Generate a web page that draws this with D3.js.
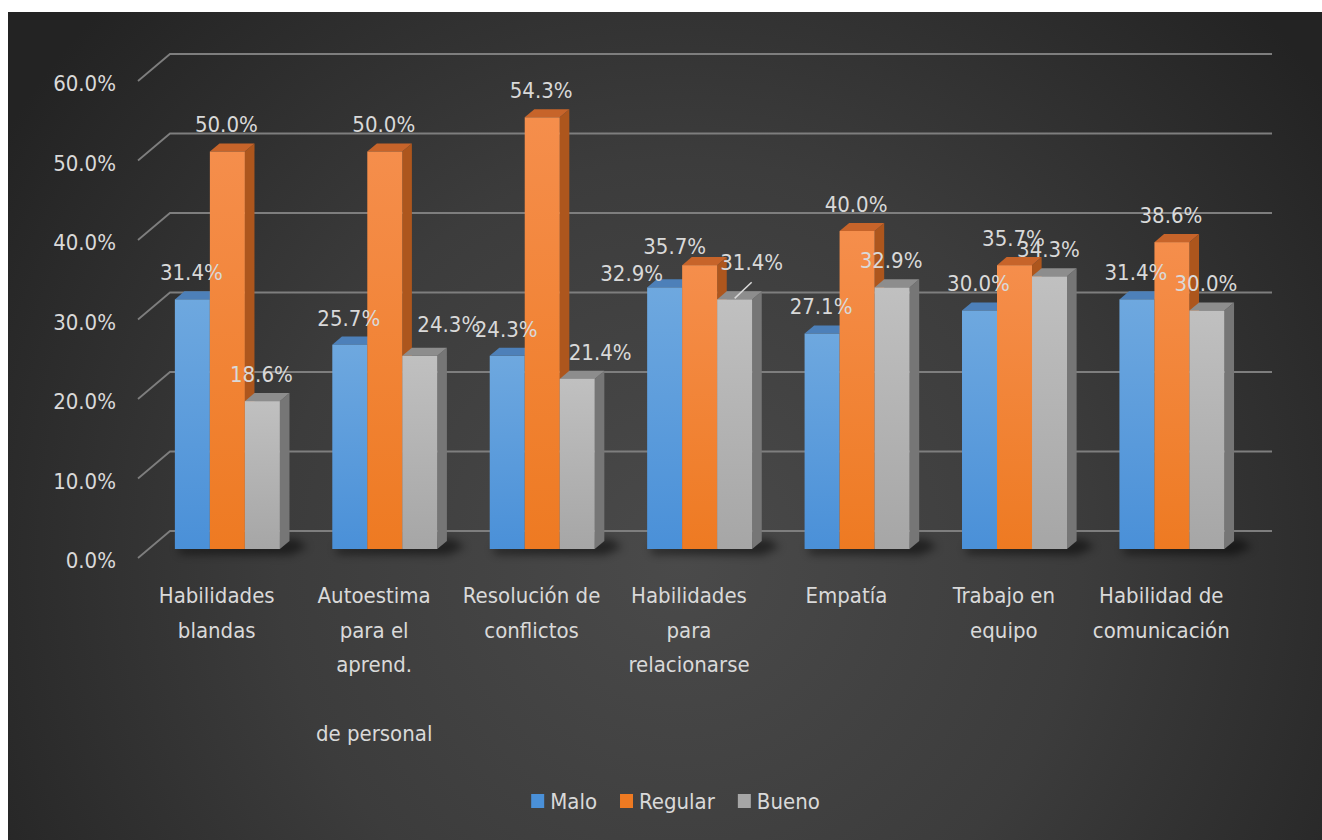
<!DOCTYPE html>
<html><head><meta charset="utf-8">
<script src="https://cdn.jsdelivr.net/npm/d3@7"></script>
<style>html,body{margin:0;padding:0;background:#fff;} svg{display:block}</style>
</head><body>
<svg id="chart" width="1322" height="840"></svg>
<script>
// ---------- data ----------
const categories = ["Habilidades blandas","Autoestima para el aprend. de personal","Resolución de conflictos","Habilidades para relacionarse","Empatía","Trabajo en equipo","Habilidad de comunicación"];
const categoryLines = [["Habilidades","blandas"],["Autoestima","para el","aprend.","","de personal"],["Resolución de","conflictos"],["Habilidades","para","relacionarse"],["Empatía"],["Trabajo en","equipo"],["Habilidad de","comunicación"]];
const seriesNames = ["Malo","Regular","Bueno"];
const malo    = [31.4, 25.7, 24.3, 32.9, 27.1, 30.0, 31.4];
const regular = [50.0, 50.0, 54.3, 35.7, 40.0, 35.7, 38.6];
const bueno   = [18.6, 24.3, 21.4, 31.4, 32.9, 34.3, 30.0];
const yTicks = [0, 10, 20, 30, 40, 50, 60];
const yTickLabels = ["0.0%","10.0%","20.0%","30.0%","40.0%","50.0%","60.0%"];

// ---------- styling / layout ----------
const W = 1322, H = 840;
const FONT = "'DejaVu Sans Condensed','Liberation Sans Narrow','Arial Narrow',Roboto,sans-serif";
const FS = 22;
const TXT = "#d9d9d9";
const seriesColors = {
  Malo:    {top:"#4d80b9", side:"#3d6c9f", g0:"#6ea8df", g1:"#4a90d8"},
  Regular: {top:"#c7642a", side:"#ad561d", g0:"#f58e4c", g1:"#ee7a22"},
  Bueno:   {top:"#8d8d8d", side:"#767676", g0:"#c0c0c0", g1:"#a6a6a6"}
};
// manual label nudges (as placed in the original chart)
const labelNudge = {"1-2":[30,-5], "2-2":[24,0], "3-0":[-32,13], "3-1":[-24,8], "3-2":[18,-10]};
const leaderLines = ["3-2"];

const values = {Malo: malo, Regular: regular, Bueno: bueno};
const svg = d3.select("#chart");
const defs = svg.append("defs");

const bg = defs.append("radialGradient").attr("id","bg").attr("gradientUnits","userSpaceOnUse")
  .attr("cx",680).attr("cy",560).attr("r",800);
bg.append("stop").attr("offset","0").attr("stop-color","#4a4a4a");
bg.append("stop").attr("offset","0.5").attr("stop-color","#3c3c3c");
bg.append("stop").attr("offset","1").attr("stop-color","#232323");

seriesNames.forEach(s => {
  const g = defs.append("linearGradient").attr("id","g-"+s).attr("x1",0).attr("y1",0).attr("x2",0).attr("y2",1);
  g.append("stop").attr("offset","0").attr("stop-color",seriesColors[s].g0);
  g.append("stop").attr("offset","1").attr("stop-color",seriesColors[s].g1);
});
const blur = defs.append("filter").attr("id","shadow").attr("x","-20%").attr("y","-100%").attr("width","140%").attr("height","300%");
blur.append("feGaussianBlur").attr("stdDeviation",4);

svg.append("rect").attr("x",8).attr("y",12).attr("width",W-8).attr("height",H-12).attr("fill","url(#bg)");

// oblique 3D projection
const depthX = 32, depthY = -27;
const P = (px, py, z) => [px + depthX*z, py + depthY*z];
const x = d3.scaleBand().domain(categories).range([138, 1240]);
const y = d3.scaleLinear().domain([0, 60]).range([558, 81]);
const zF = 0.333, zB = 0.633;
const groupW = x.bandwidth()*0.667;
const xs = d3.scaleBand().domain(seriesNames).range([0, groupW]);
const bw = xs.bandwidth();
const poly = pts => pts.map(p => p.join(",")).join(" ");

// gridlines: back wall + left side wall
const grid = svg.append("g").attr("stroke","#7e7e7e").attr("stroke-width",1.8).attr("fill","none");
yTicks.forEach(t => {
  const a = P(138, y(t), 0), b = P(138, y(t), 1), c = P(1240, y(t), 1);
  grid.append("polyline").attr("points", poly([a,b,c]));
});

// y tick labels
svg.append("g").selectAll("text").data(yTicks).join("text")
  .attr("x",116).attr("y",d => y(d)+10).attr("text-anchor","end")
  .attr("font-family",FONT).attr("font-size",FS).attr("fill",TXT)
  .text((d,i) => yTickLabels[i]);

// floor shadows
categories.forEach(c => {
  const gx0 = x(c) + (x.bandwidth()-groupW)/2;
  const gx1 = gx0 + groupW;
  const a = P(gx0+2, y(0), zF), b = P(gx1, y(0), zF), cc = P(gx1, y(0), zB);
  svg.append("polygon").attr("filter","url(#shadow)").attr("fill","#000").attr("opacity",0.5)
    .attr("points", poly([[a[0],a[1]-2],[cc[0]+6,cc[1]-2],[cc[0]+18,cc[1]+6],[b[0]+10,b[1]+6],[a[0]+4,a[1]+5]]));
});

// bars
const bars = svg.append("g");
categories.forEach((c, ci) => {
  seriesNames.forEach(s => {
    const v = values[s][ci];
    const x0 = x(c) + (x.bandwidth()-groupW)/2 + xs(s), x1 = x0 + bw;
    const g = bars.append("g");
    g.append("polygon").attr("fill",seriesColors[s].side)
      .attr("points", poly([P(x1,y(v),zF),P(x1,y(v),zB),P(x1,y(0),zB),P(x1,y(0),zF)]));
    g.append("polygon").attr("fill",seriesColors[s].top)
      .attr("points", poly([P(x0,y(v),zF),P(x1,y(v),zF),P(x1,y(v),zB),P(x0,y(v),zB)]));
    const f0 = P(x0,y(v),zF), f1 = P(x1,y(0),zF);
    g.append("rect").attr("x",f0[0]).attr("y",f0[1]).attr("width",f1[0]-f0[0]).attr("height",f1[1]-f0[1])
      .attr("fill","url(#g-"+s+")");
  });
});

// data labels
const lab = svg.append("g").attr("font-family",FONT).attr("font-size",FS).attr("fill",TXT).attr("text-anchor","middle");
categories.forEach((c, ci) => {
  seriesNames.forEach((s, si) => {
    const v = values[s][ci];
    const x0 = x(c) + (x.bandwidth()-groupW)/2 + xs(s);
    const front = P(x0 + bw/2, y(v), zF);
    const back = P(x0 + bw/2, y(v), zB);
    const key = ci+"-"+si;
    const n = labelNudge[key] || [0,0];
    const lx = front[0] - 1 + n[0], ly = back[1] - 11 + n[1];
    if (leaderLines.includes(key)) {
      lab.append("line").attr("x1",front[0]).attr("y1",front[1]-1).attr("x2",lx).attr("y2",ly+12)
        .attr("stroke",TXT).attr("stroke-width",1.5);
    }
    lab.append("text").attr("x",lx).attr("y",ly).text(d3.format(".1f")(v)+"%");
  });
});

// category labels
const cl = svg.append("g").attr("font-family",FONT).attr("font-size",FS).attr("fill",TXT).attr("text-anchor","middle");
categories.forEach((c, ci) => {
  const t = cl.append("text").attr("x", x(c) + x.bandwidth()/2).attr("y",603);
  categoryLines[ci].forEach((ln, li) => {
    t.append("tspan").attr("x", x(c) + x.bandwidth()/2).attr("y", 603 + li*34.5).text(ln === "" ? "\u00a0" : ln);
  });
});

// legend
const leg = svg.append("g").attr("font-family",FONT).attr("font-size",FS).attr("fill",TXT);
const items = [];
seriesNames.forEach((s, i) => {
  const it = leg.append("g");
  it.append("rect").attr("x",0).attr("y",794).attr("width",13).attr("height",14).attr("fill",seriesColors[s].g1);
  const tx = it.append("text").attr("x",19).attr("y",809).text(s);
  const w = 19 + tx.node().getComputedTextLength();
  items.push({it, w});
});
const total = d3.sum(items, d => d.w) + 23*(items.length-1);
let start = 675.5 - total/2;
items.forEach(d => { d.it.attr("transform", `translate(${start},0)`); start += d.w + 23; });
</script>
</body></html>
